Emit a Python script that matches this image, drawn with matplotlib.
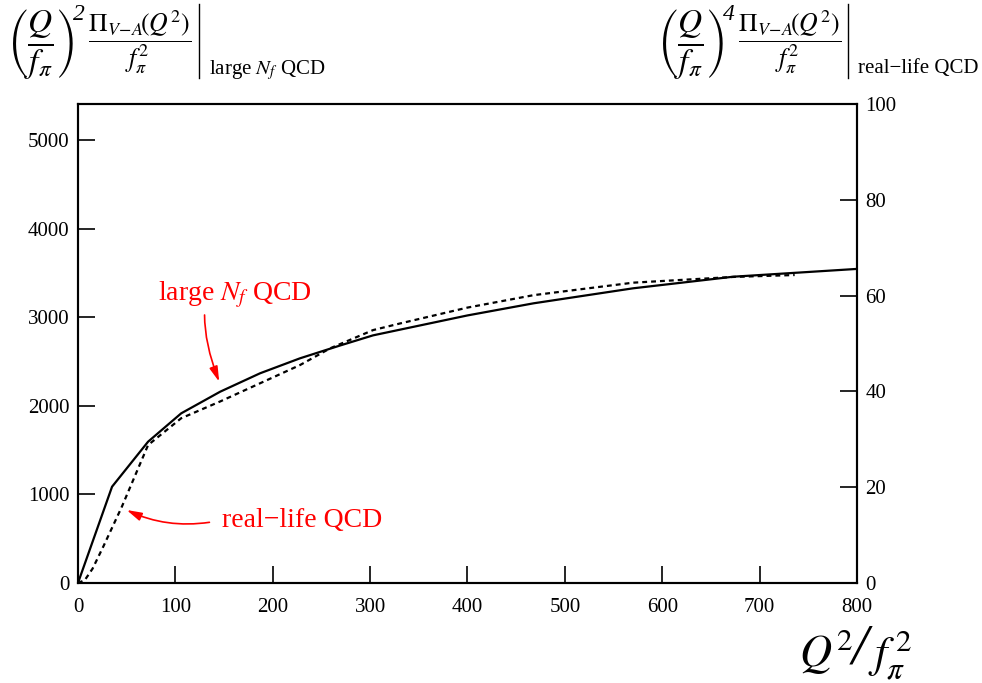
import matplotlib
matplotlib.use("Agg")
import matplotlib.pyplot as plt
from matplotlib.lines import Line2D

plt.rcParams['font.family'] = ['Liberation Serif', 'DejaVu Serif']
plt.rcParams['mathtext.fontset'] = 'stix'

# large N_f QCD (left axis)
q2_nf = [0, 35, 72, 106, 146, 187, 228, 269, 303, 331, 400, 468, 570, 673, 800]
pi_nf = [0, 1087, 1595, 1915, 2159, 2367, 2536, 2680, 2795, 2860, 3020, 3157, 3326, 3457, 3545]

# real-life QCD (right axis)
q2_real = [0, 7, 15, 26, 45, 72, 106, 146, 187, 228, 259, 303, 331, 400, 468, 570, 673, 736]
pi_real = [0, 0.6, 3.0, 7.6, 15.9, 28.8, 34.4, 37.9, 41.7, 45.5, 49.0, 52.8, 54.2, 57.5, 60.1, 62.7, 63.9, 64.3]

xticks = [0, 100, 200, 300, 400, 500, 600, 700, 800]
yticks_left = [0, 1000, 2000, 3000, 4000, 5000]
yticks_right = [0, 20, 40, 60, 80, 100]

W, H = 982, 683
fig = plt.figure(figsize=(W / 100, H / 100), dpi=100)
ax = fig.add_axes([0.0794, 0.1464, 0.7933, 0.7013])
ax2 = ax.twinx()

ax.plot(q2_nf, pi_nf, color='black', lw=1.6, solid_joinstyle='miter')
ax2.plot(q2_real, pi_real, color='black', lw=1.6, linestyle=(0, (2.2, 1.8)))

ax.set_xlim(0, 800)
ax.set_ylim(0, 5406)
ax2.set_ylim(0, 100)
ax.set_xticks(xticks)
ax.set_yticks(yticks_left)
ax2.set_yticks(yticks_right)

ax.tick_params(axis='both', direction='in', length=12, width=1.2, labelsize=15, pad=6)
ax.tick_params(axis='x', pad=11)
ax.tick_params(axis='y', right=False)
ax2.tick_params(axis='y', direction='in', length=12, width=1.2, labelsize=15, pad=6)
for a in (ax, ax2):
    for s in a.spines.values():
        s.set_linewidth(1.5)

red = '#ff0000'
head = '-|>,head_length=0.9,head_width=0.25'
ax.text(161, 3250, r'large $N_f$ QCD', color=red, fontsize=20, ha='center', va='center')
ax.annotate('', xy=(145, 2272), xytext=(130, 3025),
            arrowprops=dict(arrowstyle=head, color=red, lw=1.2,
                            connectionstyle='angle3,angleA=-90,angleB=-69', shrinkA=0, shrinkB=0))
ax.text(230, 711, 'real\u2212life QCD', color=red, fontsize=20, ha='center', va='center')
ax.annotate('', xy=(50, 824), xytext=(135, 685),
            arrowprops=dict(arrowstyle=head, color=red, lw=1.2,
                            connectionstyle='arc3,rad=-0.15', shrinkA=0, shrinkB=0))


def px(x, y):
    return x / W, 1 - y / H


# axis label
fig.text(*px(826, 652), r'$Q^{2}$', fontsize=32, ha='center', va='center')
fig.text(*px(860, 650), '/', fontsize=42, ha='center', va='center', style='italic')
fig.text(*px(890, 655), r'$f_{\pi}^{\,2}$', fontsize=32, ha='center', va='center')

# normalisation headers above each axis
frac_q = r'$\left(\dfrac{Q}{f_\pi}\right)$'
ratio = r'$\dfrac{\Pi_{V\!-\!A}\!(Q^{2})}{f_\pi^{2}}$'
for x0, power, bar_x, sub, sub_y in [(5, '2', 199, r'large $N_f$ QCD', 70),
                                     (655, '4', 848, 'real\u2212life QCD', 68)]:
    fig.text(*px(x0 + 35, 44), frac_q, fontsize=24, ha='center', va='center')
    fig.text(*px(x0 + 74, 14), power, fontsize=17, ha='center', va='center', style='italic')
    fig.text(*px(x0 + 135, 42), ratio, fontsize=18.5, ha='center', va='center')
    fig.add_artist(Line2D([bar_x / W] * 2, [1 - 78 / H, 1 - 4 / H], color='black', lw=1.0))
    fig.text(*px(bar_x + 10, sub_y), sub, fontsize=15, ha='left', va='center')

fig.savefig('out.png', dpi=100)
